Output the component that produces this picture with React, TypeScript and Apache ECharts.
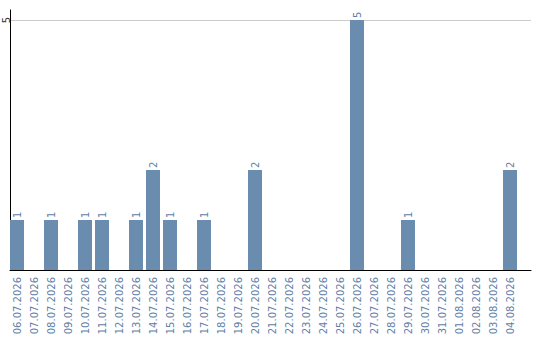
import React, { useEffect, useRef } from "react";
import * as echarts from "echarts";

// Daily counts, 06.07.2026 – 04.08.2026
const dates = [
  "06.07.2026", "07.07.2026", "08.07.2026", "09.07.2026", "10.07.2026",
  "11.07.2026", "12.07.2026", "13.07.2026", "14.07.2026", "15.07.2026",
  "16.07.2026", "17.07.2026", "18.07.2026", "19.07.2026", "20.07.2026",
  "21.07.2026", "22.07.2026", "23.07.2026", "24.07.2026", "25.07.2026",
  "26.07.2026", "27.07.2026", "28.07.2026", "29.07.2026", "30.07.2026",
  "31.07.2026", "01.08.2026", "02.08.2026", "03.08.2026", "04.08.2026",
];
const counts = [
  1, 0, 1, 0, 1,
  1, 0, 1, 2, 1,
  0, 1, 0, 0, 2,
  0, 0, 0, 0, 0,
  5, 0, 0, 1, 0,
  0, 0, 0, 0, 2,
];
const yMax = 5.2;
const yTick = 5;

const FONT = "DejaVu Sans";
const BAR = "#6a8caf";
const LABEL = "#5f80a8";

export default function App() {
  const ref = useRef<HTMLDivElement>(null);

  useEffect(() => {
    if (!ref.current) return;
    const chart = echarts.init(ref.current, undefined, { renderer: "svg" });
    chart.setOption({
      animation: false,
      grid: [
        // bars + date labels
        { left: 8.5, width: 510, top: 10, bottom: 70, containLabel: false, outerBoundsMode: "none" },
        // frame: axis lines, gridline and the "5" label
        { left: 10, right: 9, top: 10, bottom: 70, containLabel: false, outerBoundsMode: "none" },
      ],
      xAxis: [
        {
          gridIndex: 0,
          type: "category",
          data: dates,
          axisLine: { show: false },
          axisTick: { show: false },
          axisLabel: {
            interval: 0,
            rotate: 90,
            margin: 7,
            color: LABEL,
            fontFamily: FONT,
            fontSize: 10,
          },
        },
        {
          gridIndex: 1,
          type: "value",
          min: 0,
          max: 1,
          axisLine: { show: true, onZero: false, lineStyle: { color: "#000", width: 1 } },
          axisTick: { show: false },
          axisLabel: { show: false },
          splitLine: { show: false },
        },
      ],
      yAxis: [
        {
          gridIndex: 0,
          type: "value",
          min: 0,
          max: yMax,
          show: false,
          splitLine: { show: false },
        },
        {
          gridIndex: 1,
          type: "value",
          min: 0,
          max: yMax,
          interval: yTick,
          axisLine: { show: true, lineStyle: { color: "#000", width: 1 } },
          axisTick: { show: false },
          axisLabel: {
            rotate: 90,
            margin: 4,
            align: "center",
            verticalAlign: "middle",
            color: "#333",
            fontFamily: FONT,
            fontSize: 10,
            formatter: (v: number) => (v === yTick ? String(v) : ""),
          },
          splitLine: {
            show: true,
            lineStyle: { color: ["transparent", "#cccccc", "transparent"], width: 1 },
          },
        },
      ],
      series: [
        {
          type: "bar",
          xAxisIndex: 0,
          yAxisIndex: 0,
          data: counts,
          barWidth: 14,
          itemStyle: { color: BAR },
          label: {
            show: true,
            position: "top",
            rotate: 90,
            align: "left",
            verticalAlign: "middle",
            distance: 2,
            color: LABEL,
            fontFamily: FONT,
            fontSize: 10,
            formatter: (p: any) => (p.value ? String(p.value) : ""),
          },
        },
      ],
    });
    return () => chart.dispose();
  }, []);

  return (
    <div
      ref={ref}
      style={{ width: 540, height: 340, position: "absolute", left: 0, top: 0, background: "#fff" }}
    />
  );
}
